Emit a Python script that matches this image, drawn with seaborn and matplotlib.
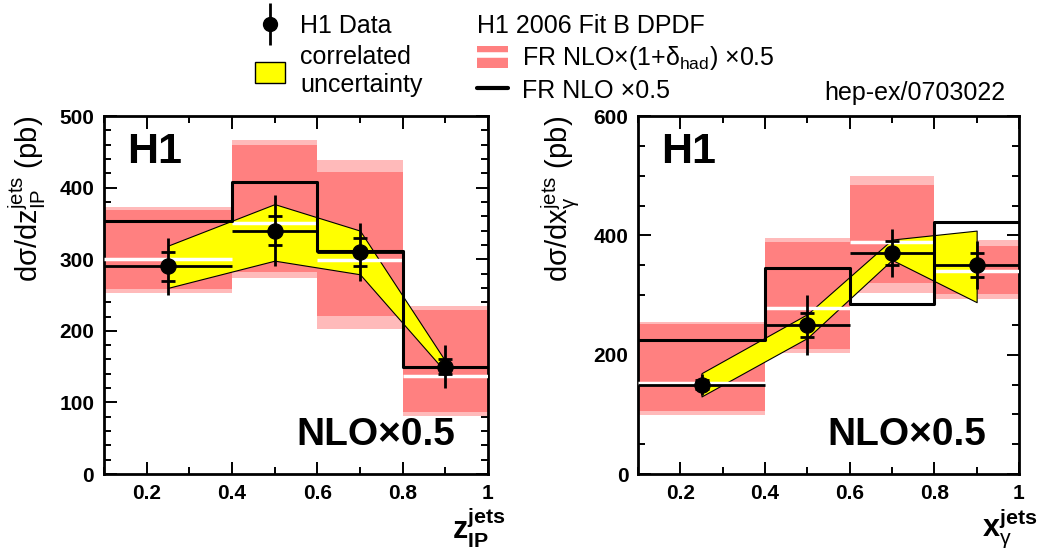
import matplotlib
matplotlib.use('Agg')
import matplotlib.pyplot as plt
from matplotlib.lines import Line2D
from matplotlib.patches import Patch
from matplotlib.ticker import MultipleLocator
import seaborn as sns

# bins shared by both distributions
bin_edges = [0.1, 0.4, 0.6, 0.8, 1.0]
bin_centres = [0.25, 0.5, 0.7, 0.9]

# d sigma / d z_IP
zp_data = [290, 340, 310, 150]
zp_stat = [20, 20, 20, 10]
zp_tot = [40, 50, 40, 30]
zp_corr_lo = [260, 298, 279, 143]
zp_corr_hi = [319, 377, 340, 158]
zp_nlo = [353, 408, 312, 149]
zp_had = [301, 350, 299, 137]
zp_had_lo = [258, 282, 221, 86]
zp_had_hi = [369, 460, 422, 229]
zp_had_lo2 = [253, 274, 203, 81]
zp_had_hi2 = [373, 466, 438, 235]

# d sigma / d x_gamma
xg_data = [150, 250, 370, 350]
xg_stat = [8, 20, 20, 20]
xg_tot = [17, 50, 40, 40]
xg_corr_lo = [130, 228, 359, 288]
xg_corr_hi = [169, 268, 393, 408]
xg_nlo = [224, 345, 285, 423]
xg_had = [153, 278, 389, 340]
xg_had_lo = [105, 210, 321, 301]
xg_had_hi = [251, 389, 485, 383]
xg_had_lo2 = [99, 203, 304, 294]
xg_had_hi2 = [255, 395, 499, 392]

x_ticks = [0.2, 0.4, 0.6, 0.8, 1.0]
x_tick_labels = ['0.2', '0.4', '0.6', '0.8', '1']

RED = '#ff8080'
PINK = '#ffbaba'

sns.set_style('ticks', {'axes.edgecolor': 'black', 'text.color': 'black',
                        'axes.labelcolor': 'black', 'xtick.color': 'black',
                        'ytick.color': 'black'})
plt.rcParams['font.family'] = ['Liberation Sans', 'DejaVu Sans']
plt.rcParams['mathtext.fontset'] = 'custom'
plt.rcParams['mathtext.rm'] = 'Liberation Sans'
plt.rcParams['mathtext.it'] = 'Liberation Sans'
plt.rcParams['mathtext.bf'] = 'Liberation Sans:bold'


def draw_panel(ax, data, stat, tot, corr_lo, corr_hi, nlo, had, had_lo, had_hi,
               had_lo2, had_hi2, ymax, ymajor, yminor, ylabel, xlabel):
    lo_edges = bin_edges[:-1]
    widths = [b - a for a, b in zip(bin_edges[:-1], bin_edges[1:])]
    outer = [h - l for l, h in zip(had_lo2, had_hi2)]
    inner = [h - l for l, h in zip(had_lo, had_hi)]
    ax.bar(lo_edges, outer, width=widths, bottom=had_lo2, align='edge',
           color=PINK, linewidth=0, zorder=1)
    ax.bar(lo_edges, inner, width=widths, bottom=had_lo, align='edge',
           color=RED, linewidth=0, zorder=2)
    ax.fill_between(bin_centres, corr_lo, corr_hi, facecolor='yellow',
                    edgecolor='black', linewidth=0.8, zorder=3)
    ax.hlines(had, bin_edges[:-1], bin_edges[1:], color='white', lw=2.5, zorder=4)
    sns.lineplot(x=bin_edges, y=nlo + [nlo[-1]], drawstyle='steps-post',
                 color='black', lw=2.2, estimator=None, sort=False, ax=ax, zorder=5)
    xerr = [[c - a for c, a in zip(bin_centres, bin_edges[:-1])],
            [b - c for c, b in zip(bin_centres, bin_edges[1:])]]
    ax.errorbar(bin_centres, data, yerr=tot, xerr=xerr, fmt='none',
                ecolor='black', elinewidth=2, capsize=0, zorder=6)
    ax.errorbar(bin_centres, data, yerr=stat, fmt='none', ecolor='black',
                elinewidth=0, capsize=5, capthick=2, zorder=6)
    sns.scatterplot(x=bin_centres, y=data, color='black', s=120,
                    edgecolor='black', zorder=7, ax=ax)

    ax.set_xlim(0.1, 1.0)
    ax.set_ylim(0, ymax)
    ax.set_xticks(x_ticks)
    ax.set_xticklabels(x_tick_labels)
    ax.xaxis.set_minor_locator(MultipleLocator(0.1))
    ax.yaxis.set_major_locator(MultipleLocator(ymajor))
    ax.yaxis.set_minor_locator(MultipleLocator(yminor))
    ax.tick_params(which='both', direction='in', top=True, right=True,
                   width=1.4, labelsize=15, pad=7, colors='black')
    ax.tick_params(which='major', length=9)
    ax.tick_params(which='minor', length=5)
    plt.setp(ax.get_xticklabels() + ax.get_yticklabels(), fontweight='bold')
    for s in ax.spines.values():
        s.set_linewidth(2)
        s.set_color('black')
    ax.set_ylabel(ylabel, fontsize=21, loc='top', labelpad=8)
    ax.set_xlabel(xlabel, fontsize=22, loc='right')
    ax.xaxis.set_label_coords(1.047, -0.09, transform=ax.transAxes)
    ax.xaxis.label.set_va('top')
    ax.text(0.06, 0.955, 'H1', transform=ax.transAxes, fontsize=31,
            fontweight='bold', va='top', ha='left')
    ax.text(0.915, 0.06, 'NLO×0.5', transform=ax.transAxes, fontsize=28,
            fontweight='bold', va='bottom', ha='right')


fig = plt.figure(figsize=(10.48, 5.49), dpi=100)
ax1 = fig.add_axes([0.0992, 0.1366, 0.3664, 0.652])
ax2 = fig.add_axes([0.6088, 0.1366, 0.3635, 0.652])

draw_panel(ax1, zp_data, zp_stat, zp_tot, zp_corr_lo, zp_corr_hi, zp_nlo, zp_had,
           zp_had_lo, zp_had_hi, zp_had_lo2, zp_had_hi2, 500, 100, 20,
           r'dσ/dz$_{\mathrm{IP}}^{\mathrm{jets}}$ (pb)',
           r'$\mathbf{z}_{\mathbf{IP}}^{\mathbf{jets}}$')
draw_panel(ax2, xg_data, xg_stat, xg_tot, xg_corr_lo, xg_corr_hi, xg_nlo, xg_had,
           xg_had_lo, xg_had_hi, xg_had_lo2, xg_had_hi2, 600, 200, 50,
           r'dσ/dx$_{\gamma}^{\mathrm{jets}}$ (pb)',
           r'$\mathbf{x}_{\gamma}^{\mathbf{jets}}$')

# legends
h_data = (Line2D([], [], marker='|', ms=30, mew=2, color='black', ls=''),
          Line2D([], [], marker='o', ms=10, color='black', ls=''))
h_corr = Patch(facecolor='yellow', edgecolor='black', linewidth=1)
fig.legend([h_data, h_corr], ['H1 Data', 'correlated\nuncertainty'],
           loc='upper left', bbox_to_anchor=(255 / 1048, 1 - 14 / 549),
           frameon=False, fontsize=18, borderpad=0, borderaxespad=0,
           handlelength=1.2, handleheight=0.9, handletextpad=0.6,
           labelspacing=0.3)

h_had = (Patch(facecolor=RED, edgecolor='none'),
         Line2D([], [], color='white', lw=4))
h_nlo = Line2D([], [], color='black', lw=3)
fig.legend([h_had, h_nlo],
           [r'FR NLO×(1+δ$_{\mathrm{had}}$) ×0.5', 'FR NLO ×0.5'],
           title='H1 2006 Fit B DPDF', title_fontsize=18, alignment='left',
           loc='upper left', bbox_to_anchor=(477 / 1048, 1 - 14 / 549),
           frameon=False, fontsize=18, borderpad=0, borderaxespad=0,
           handlelength=1.25, handleheight=1.0, handletextpad=0.55,
           labelspacing=0.25)

fig.text(1005 / 1048, 1 - 93 / 549, 'hep-ex/0703022', fontsize=18,
         ha='right', va='center')

fig.savefig('out.png', dpi=100)
